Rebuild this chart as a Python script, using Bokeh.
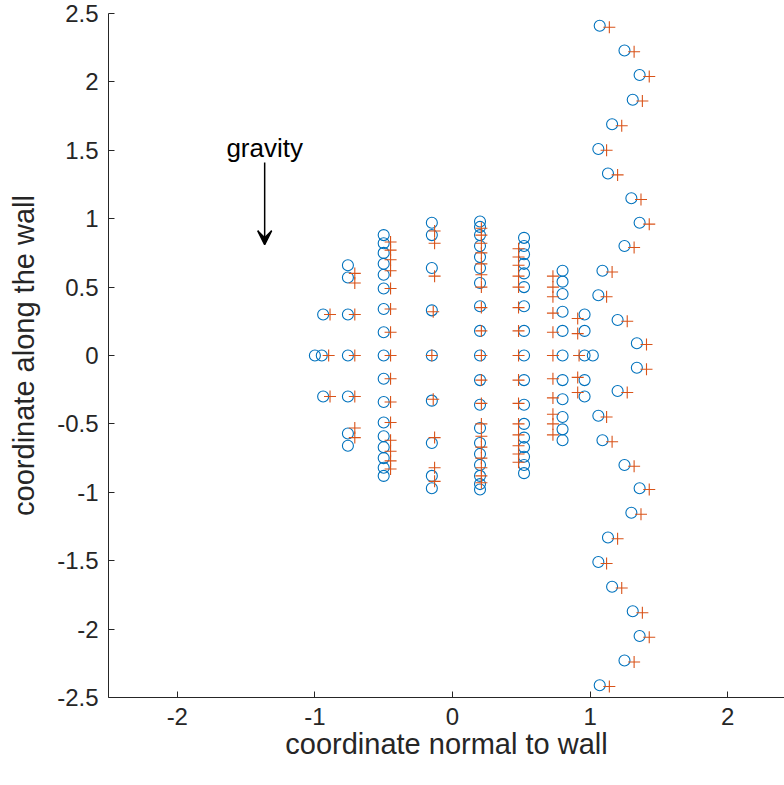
from bokeh.plotting import figure
from bokeh.models import Range1d, FixedTicker, Arrow, VeeHead, Label
from bokeh.embed import file_html
from bokeh.resources import INLINE

# ---- data ----
outer_circle_x = [1.07, 1.25, 1.36, 1.31, 1.16, 1.06, 1.13, 1.30, 1.36, 1.25, 1.09, 1.06, 1.20, 1.34,
                  1.34, 1.20, 1.06, 1.09, 1.25, 1.36, 1.30, 1.13, 1.06, 1.16, 1.31, 1.36, 1.25, 1.07]
outer_circle_y = [2.41, 2.23, 2.05, 1.87, 1.69, 1.51, 1.33, 1.15, 0.97, 0.80, 0.62, 0.44, 0.26, 0.09,
                  -0.09, -0.26, -0.44, -0.62, -0.80, -0.97, -1.15, -1.33, -1.51, -1.69, -1.87, -2.05, -2.23, -2.41]
outer_plus_x = [1.14, 1.32, 1.43, 1.38, 1.23, 1.12, 1.20, 1.37, 1.43, 1.32, 1.16, 1.12, 1.27, 1.41,
                1.41, 1.27, 1.12, 1.16, 1.32, 1.43, 1.37, 1.20, 1.12, 1.23, 1.38, 1.43, 1.32, 1.14]
outer_plus_y = [2.40, 2.22, 2.04, 1.86, 1.68, 1.50, 1.32, 1.14, 0.96, 0.79, 0.61, 0.43, 0.25, 0.08,
                -0.10, -0.27, -0.45, -0.63, -0.81, -0.98, -1.16, -1.34, -1.52, -1.70, -1.88, -2.06, -2.24, -2.42]

inner_circle_x = [-1.00, -0.95,
                  -0.94, -0.94,
                  -0.76, -0.76, -0.76, -0.76, -0.76, -0.76, -0.76,
                  -0.50, -0.50, -0.50, -0.50, -0.50, -0.50, -0.50, -0.50, -0.50,
                  -0.50, -0.50, -0.50, -0.50, -0.50, -0.50, -0.50, -0.50,
                  -0.15, -0.15, -0.15, -0.15, -0.15, -0.15, -0.15, -0.15, -0.15,
                  0.20, 0.20, 0.20, 0.20, 0.20, 0.20, 0.20, 0.20, 0.20, 0.20,
                  0.20, 0.20, 0.20, 0.20, 0.20, 0.20, 0.20, 0.20, 0.20,
                  0.52, 0.52, 0.52, 0.52, 0.52, 0.52, 0.52, 0.52, 0.52,
                  0.52, 0.52, 0.52, 0.52, 0.52, 0.52, 0.52, 0.52,
                  0.80, 0.80, 0.80, 0.80, 0.80, 0.80, 0.80, 0.80, 0.80, 0.80, 0.80,
                  0.96, 0.96, 0.96, 0.96, 0.96,
                  1.02]
inner_circle_y = [0.00, 0.00,
                  0.30, -0.30,
                  0.66, 0.57, 0.30, 0.00, -0.30, -0.57, -0.66,
                  0.88, 0.82, 0.75, 0.67, 0.59, 0.49, 0.34, 0.17, 0.00,
                  -0.17, -0.34, -0.49, -0.59, -0.67, -0.75, -0.82, -0.88,
                  0.97, 0.88, 0.64, 0.33, 0.00, -0.33, -0.64, -0.88, -0.97,
                  0.98, 0.94, 0.88, 0.80, 0.72, 0.64, 0.53, 0.36, 0.18, 0.00,
                  -0.18, -0.36, -0.53, -0.64, -0.72, -0.80, -0.88, -0.94, -0.98,
                  0.86, 0.80, 0.74, 0.67, 0.60, 0.50, 0.36, 0.18, 0.00,
                  -0.18, -0.36, -0.50, -0.60, -0.67, -0.74, -0.80, -0.86,
                  0.62, 0.54, 0.45, 0.32, 0.18, 0.00, -0.18, -0.32, -0.45, -0.54, -0.62,
                  0.30, 0.18, 0.00, -0.18, -0.30,
                  0.00]

inner_plus_x = [-0.90,
                -0.89, -0.89,
                -0.71, -0.71, -0.71, -0.71, -0.71, -0.71, -0.71,
                -0.45, -0.45, -0.45, -0.45, -0.45, -0.45, -0.45, -0.45,
                -0.45, -0.45, -0.45, -0.45, -0.45, -0.45, -0.45,
                -0.13, -0.13, -0.13, -0.14, -0.15, -0.14, -0.13, -0.13, -0.13,
                0.21, 0.21, 0.21, 0.21, 0.21, 0.21, 0.21, 0.21, 0.21, 0.21,
                0.21, 0.21, 0.21, 0.21, 0.21, 0.21, 0.21, 0.21, 0.21,
                0.48, 0.48, 0.48, 0.48, 0.48, 0.48, 0.48, 0.48,
                0.48, 0.48, 0.48, 0.48, 0.48, 0.48, 0.48,
                0.73, 0.73, 0.73, 0.73, 0.73, 0.73, 0.73, 0.73, 0.73, 0.73, 0.73,
                0.91, 0.91, 0.92, 0.91, 0.91]
inner_plus_y = [0.00,
                0.30, -0.30,
                0.60, 0.53, 0.30, 0.00, -0.30, -0.53, -0.60,
                0.83, 0.77, 0.70, 0.62, 0.49, 0.34, 0.17, 0.00,
                -0.17, -0.34, -0.49, -0.62, -0.70, -0.77, -0.83,
                0.91, 0.82, 0.58, 0.32, 0.00, -0.32, -0.60, -0.82, -0.92,
                0.93, 0.88, 0.82, 0.75, 0.67, 0.59, 0.50, 0.35, 0.18, 0.00,
                -0.18, -0.35, -0.50, -0.59, -0.67, -0.75, -0.82, -0.88, -0.93,
                0.78, 0.72, 0.66, 0.58, 0.50, 0.35, 0.18, 0.00,
                -0.18, -0.35, -0.50, -0.58, -0.66, -0.72, -0.78,
                0.58, 0.50, 0.43, 0.31, 0.17, 0.00, -0.17, -0.31, -0.43, -0.50, -0.58,
                0.27, 0.16, 0.00, -0.16, -0.27]

x_ticks = [-2, -1, 0, 1, 2]
x_tick_labels = ["-2", "-1", "0", "1", "2"]
y_ticks = [-2.5, -2, -1.5, -1, -0.5, 0, 0.5, 1, 1.5, 2, 2.5]
y_tick_labels = ["-2.5", "-2", "-1.5", "-1", "-0.5", "0", "0.5", "1", "1.5", "2", "2.5"]
x_label = "coordinate normal to wall"
y_label = "coordinate along the wall"
gravity_text = "gravity"
gravity_x = -1.365
gravity_tail_y = 1.41
gravity_head_y = 0.81
gravity_text_y = 1.52

FONT = "Liberation Sans"
AX = "#262626"

p = figure(width=784, height=785,
           x_range=Range1d(-2.5, 2.413), y_range=Range1d(-2.5, 2.5),
           output_backend="svg", toolbar_location=None,
           min_border_left=108, min_border_right=0, min_border_top=13, min_border_bottom=88)
p.outline_line_color = None
p.background_fill_color = "white"
p.border_fill_color = "white"
p.xgrid.visible = False
p.ygrid.visible = False

for ax, ticks, labels in ((p.xaxis[0], x_ticks, x_tick_labels), (p.yaxis[0], y_ticks, y_tick_labels)):
    ax.ticker = FixedTicker(ticks=ticks)
    ax.major_label_overrides = {t: l for t, l in zip(ticks, labels)}
    ax.axis_line_color = AX
    ax.axis_line_width = 1
    ax.major_tick_line_color = AX
    ax.major_tick_in = 6
    ax.major_tick_out = 0
    ax.minor_tick_line_color = None
    ax.major_label_text_font = FONT
    ax.major_label_text_font_size = "24px"
    ax.major_label_text_color = AX
    ax.axis_label_text_font = FONT
    ax.axis_label_text_font_size = "29px"
    ax.axis_label_text_font_style = "normal"
    ax.axis_label_text_color = AX

p.xaxis.axis_label = x_label
p.yaxis.axis_label = y_label
p.xaxis.major_label_standoff = 10
p.yaxis.major_label_standoff = 10
p.xaxis.axis_label_standoff = 0
p.yaxis.axis_label_standoff = 14

p.scatter(outer_circle_x + inner_circle_x, outer_circle_y + inner_circle_y, marker="circle",
          size=11, fill_color=None, line_color="#0072BD", line_width=1.1)
p.scatter(outer_plus_x + inner_plus_x, outer_plus_y + inner_plus_y, marker="cross",
          size=12, line_color="#D95319", line_width=1.1)

p.add_layout(Arrow(end=VeeHead(size=14, fill_color="black", line_color="black", line_width=1.5),
                   x_start=gravity_x, y_start=gravity_tail_y, x_end=gravity_x, y_end=gravity_head_y,
                   line_color="black", line_width=1.5))
p.add_layout(Label(x=gravity_x, y=gravity_text_y, text=gravity_text, text_align="center",
                   text_baseline="middle", text_font=FONT, text_font_size="26px", text_color="black"))

open("out.html", "w").write(file_html(p, INLINE))
